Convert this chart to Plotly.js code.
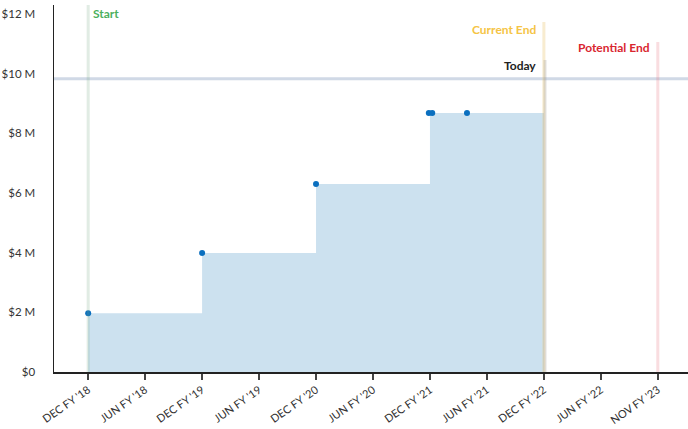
<!DOCTYPE html>
<html>
<head>
<meta charset="utf-8">
<script src="https://cdn.plot.ly/plotly-3.0.1.min.js"></script>
<style>html,body{margin:0;padding:0;background:#fff;}#chart{width:688px;height:429px;}</style>
</head>
<body>
<div id="chart"></div>
<script>
// Tick labels (x positions are tick indices)
const tickLabels = ["DEC FY '18","JUN FY '18","DEC FY '19","JUN FY '19","DEC FY '20","JUN FY '20","DEC FY '21","JUN FY '21","DEC FY '22","JUN FY '22","NOV FY '23"];
const tickIdx = [0,1,2,3,4,5,6,7,8,9,10];
const yTickVals = [0, 2e6, 4e6, 6e6, 8e6, 10e6, 12e6];
const yTickText = ["$0","$2 M","$4 M","$6 M","$8 M","$10 M","$12 M"];

// Cumulative funding step series
const stepX = [0, 2, 4, 6, 8];
const stepY = [1.97e6, 3.99e6, 6.30e6, 8.68e6, 8.68e6];

// Funding action points
const pointX = [0, 2, 4, 5.98, 6.04, 6.65];
const pointY = [1.97e6, 3.99e6, 6.30e6, 8.68e6, 8.68e6, 8.68e6];

// Milestones
const startX = 0;
const currentEndX = 8;
const todayX = 8.02;
const potentialEndX = 10;
const ceilingValue = 9.83e6;

const data = [
  {x: stepX, y: stepY, type: 'scatter', mode: 'lines', line: {shape: 'hv', width: 0, color: 'rgba(0,0,0,0)'},
   fill: 'tozeroy', fillcolor: '#cce1ef', hoverinfo: 'skip', showlegend: false},
  {x: pointX, y: pointY, type: 'scatter', mode: 'markers', marker: {color: '#0a6fbf', size: 6}, showlegend: false}
];

const vline = (x, top, color) => ({type: 'line', xref: 'x', yref: 'paper', x0: x, x1: x, y0: 0, y1: top, line: {color: color, width: 3}, layer: 'above'});

const layout = {
  width: 688, height: 429,
  margin: {l: 54, r: 0, t: 5, b: 57},
  paper_bgcolor: '#fff', plot_bgcolor: '#fff',
  font: {family: 'Lato, "Source Sans Pro", sans-serif', size: 12, color: '#333'},
  showlegend: false,
  hovermode: false,
  xaxis: {
    range: [-0.6, 10.53], tickmode: 'array', tickvals: tickIdx, ticktext: tickLabels,
    tickangle: -35, ticks: 'outside', ticklen: 6, tickcolor: '#444', tickwidth: 1.5,
    showline: true, linecolor: '#222', linewidth: 1.5, showgrid: false, zeroline: false,
    tickfont: {size: 11, color: '#333'}, fixedrange: true
  },
  yaxis: {
    range: [0, 12.3e6], tickmode: 'array', tickvals: yTickVals, ticktext: yTickText,
    ticks: '', ticklabelstandoff: 15, showline: true, linecolor: '#222', linewidth: 1.5,
    showgrid: false, zeroline: false, tickfont: {size: 11.5, color: '#333'}, fixedrange: true
  },
  shapes: [
    {type: 'line', xref: 'paper', yref: 'y', x0: 0, x1: 1, y0: ceilingValue, y1: ceilingValue, line: {color: 'rgba(150,170,200,0.45)', width: 3}, layer: 'above'},
    vline(startX, 1, 'rgba(120,170,130,0.22)'),
    vline(currentEndX, 0.954, 'rgba(235,200,120,0.35)'),
    vline(todayX, 0.85, 'rgba(140,140,140,0.25)'),
    vline(potentialEndX, 0.899, 'rgba(230,120,130,0.25)')
  ],
  annotations: [
    {x: startX, xref: 'x', y: 0.978, yref: 'paper', text: '<b>Start</b>', showarrow: false, xanchor: 'left', xshift: 3, yanchor: 'middle', font: {color: '#4caf5e', size: 12}},
    {x: currentEndX, xref: 'x', y: 0.932, yref: 'paper', text: '<b>Current End</b>', showarrow: false, xanchor: 'right', xshift: -6, yanchor: 'middle', font: {color: '#f5c445', size: 12}},
    {x: potentialEndX, xref: 'x', y: 0.883, yref: 'paper', text: '<b>Potential End</b>', showarrow: false, xanchor: 'right', xshift: -6, yanchor: 'middle', font: {color: '#d9262f', size: 12}},
    {x: currentEndX, xref: 'x', y: 0.834, yref: 'paper', text: '<b>Today</b>', showarrow: false, xanchor: 'right', xshift: -6, yanchor: 'middle', font: {color: '#222', size: 12}}
  ]
};

Plotly.newPlot('chart', data, layout, {displayModeBar: false, staticPlot: true});
</script>
</body>
</html>
